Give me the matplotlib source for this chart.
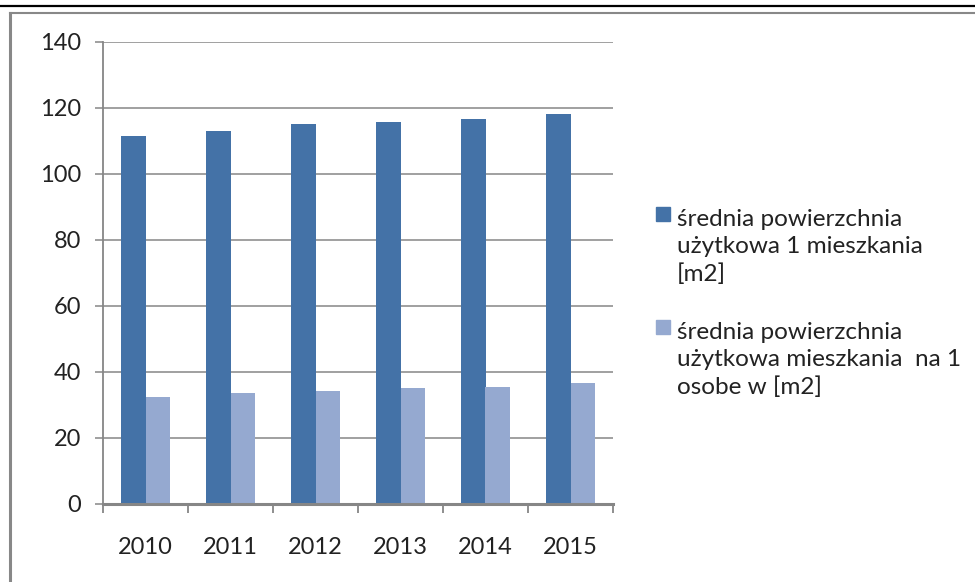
import matplotlib
matplotlib.use("Agg")
import matplotlib.pyplot as plt
import numpy as np
from matplotlib.lines import Line2D
from matplotlib.patches import Rectangle

years = ["2010", "2011", "2012", "2013", "2014", "2015"]
avg_flat = [111.5, 113.0, 115.2, 115.8, 116.7, 118.2]
avg_per_person = [32.4, 33.6, 34.2, 35.2, 35.5, 36.7]
series_labels = ["średnia powierzchnia\nużytkowa 1 mieszkania\n[m2]",
                 "średnia powierzchnia\nużytkowa mieszkania  na 1\nosobe w [m2]"]
colors = ["#4472A7", "#95A9D0"]

W, H = 975, 582
plt.rcParams['font.family'] = ['Lato', 'DejaVu Sans']
fig = plt.figure(figsize=(W / 100, H / 100), dpi=100)

def fx(px):
    return px / W

def fy(py):
    return 1 - py / H

# page lines / frame
fig.add_artist(Line2D([0, 1], [fy(6), fy(6)], color="black", lw=1.6))
fig.add_artist(Line2D([fx(9.5), fx(9.5)], [fy(13), 0], color="#888888", lw=2.2))
fig.add_artist(Line2D([fx(9.5), 1], [fy(13), fy(13)], color="#888888", lw=1.5))

ax_l, ax_r, ax_t, ax_b = 103, 613, 42, 504
ax = fig.add_axes([fx(ax_l), fy(ax_b), fx(ax_r - ax_l), (ax_b - ax_t) / H])

x = np.arange(len(years))
bw = 0.29
ax.bar(x - bw / 2, avg_flat, bw, color=colors[0], zorder=3)
ax.bar(x + bw / 2, avg_per_person, bw, color=colors[1], zorder=3)

ax.set_xlim(-0.5, len(years) - 0.5)
ax.set_ylim(0, 140)
ax.set_yticks(np.arange(0, 141, 20))
ax.yaxis.grid(True, color="#868686", lw=1.1, zorder=0)
ax.set_axisbelow(True)

for s in ["top", "right"]:
    ax.spines[s].set_visible(False)
ax.spines["left"].set_color("#868686")
ax.spines["left"].set_linewidth(1.3)
ax.spines["bottom"].set_color("#868686")
ax.spines["bottom"].set_linewidth(2.2)
ax.spines["bottom"].set_zorder(4)

ax.tick_params(axis="y", direction="out", length=6, width=1.1, color="#868686",
               pad=10, labelsize=17, labelcolor="#222222")
ax.set_xticks(x)
ax.set_xticklabels(years)
ax.set_xticks(np.arange(-0.5, len(years)), minor=True)
ax.tick_params(axis="x", which="major", length=0, pad=24, labelsize=17, labelcolor="#222222")
ax.tick_params(axis="x", which="minor", direction="out", length=6.5, width=1.3, color="#868686")

# legend
sq = 14
entries_y = [214, 327]
for i, (lab, yc) in enumerate(zip(series_labels, entries_y)):
    fig.add_artist(Rectangle((fx(656), fy(yc + sq / 2)), fx(sq), sq / H,
                             color=colors[i], transform=fig.transFigure))
    fig.text(fx(677), fy(yc + 33), lab, fontsize=17.5, color="#222222",
             va="center", ha="left", linespacing=1.33)

fig.savefig("out.png", dpi=100)
